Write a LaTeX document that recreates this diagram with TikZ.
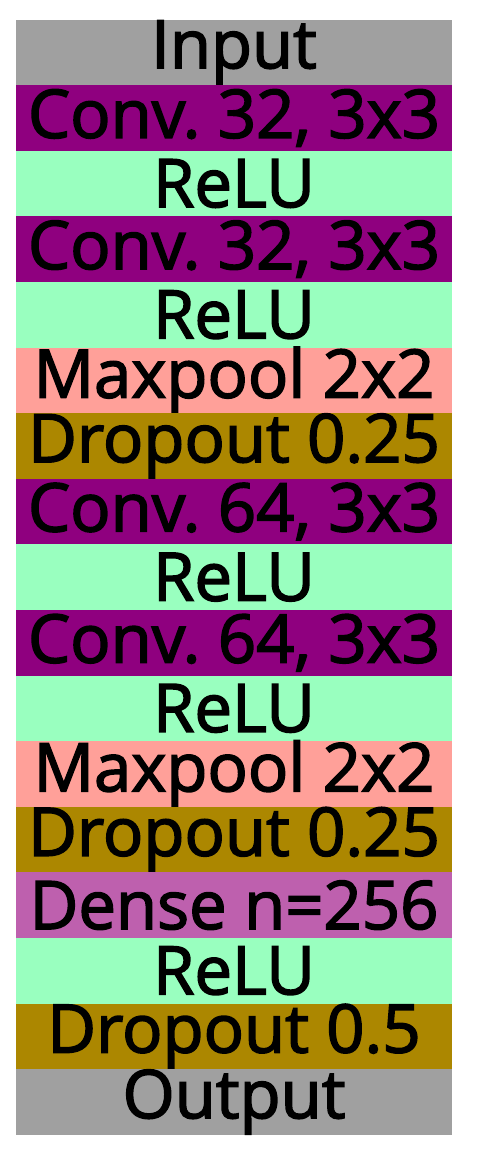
\documentclass[tikz,border=0pt]{standalone}
\usepackage{fontspec}
\setmainfont{Open Sans}
\frenchspacing
\definecolor{cgray}{RGB}{160,160,160}
\definecolor{cconv}{RGB}{143,0,127}
\definecolor{crelu}{RGB}{153,255,191}
\definecolor{cpool}{RGB}{255,160,153}
\definecolor{cdrop}{RGB}{172,135,0}
\definecolor{cdense}{RGB}{190,96,174}
\tikzset{
  layer/.style={draw=none, rectangle, inner sep=0pt, minimum width=436pt, minimum height=65.6pt,
    font=\fontsize{67}{70}\selectfont\addfontfeatures{FakeBold=2.3}, text=black, anchor=center},
}
\begin{document}
\begin{tikzpicture}[x=1pt,y=1pt]
\useasboundingbox (0,0) rectangle (479,-1157);
\def\ytop{-19.5}
\foreach \lab/\col/\nm [count=\i from 0] in {
  Input/cgray/l0,
  {Conv. 32, 3x3}/cconv/l1,
  ReLU/crelu/l2,
  {Conv. 32, 3x3}/cconv/l3,
  ReLU/crelu/l4,
  Maxpool 2x2/cpool/l5,
  Dropout 0.25/cdrop/l6,
  {Conv. 64, 3x3}/cconv/l7,
  ReLU/crelu/l8,
  {Conv. 64, 3x3}/cconv/l9,
  ReLU/crelu/l10,
  Maxpool 2x2/cpool/l11,
  Dropout 0.25/cdrop/l12,
  Dense n=256/cdense/l13,
  ReLU/crelu/l14,
  Dropout 0.5/cdrop/l15,
  Output/cgray/l16}
{
  \fill[\col] (16,{\ytop-65.6*\i}) rectangle (452,{\ytop-65.6*(\i+1)});
  \node[layer] (\nm) at (234,{\ytop-65.6*(\i+0.5)}) {\lab};
}
\end{tikzpicture}
\end{document}
